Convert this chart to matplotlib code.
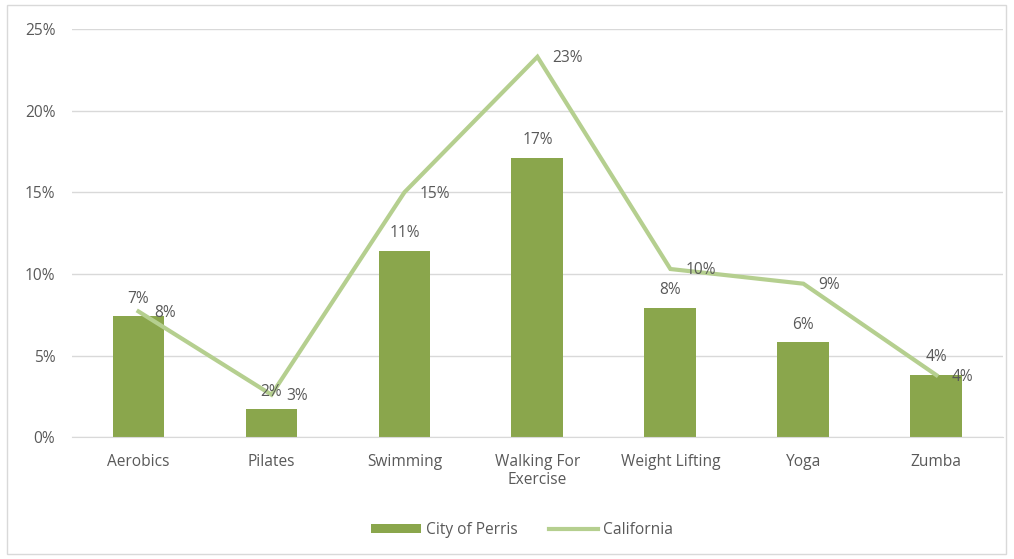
import matplotlib
matplotlib.use("Agg")
import matplotlib.pyplot as plt
from matplotlib.ticker import FuncFormatter, MultipleLocator
from matplotlib.patches import Rectangle
import numpy as np

# ---- data (percent) ----
categories = ["Aerobics", "Pilates", "Swimming", "Walking For\nExercise",
              "Weight Lifting", "Yoga", "Zumba"]
perris = [7.4, 1.7, 11.4, 17.1, 7.9, 5.8, 3.8]
california = [7.7, 2.6, 15.0, 23.3, 10.3, 9.4, 3.8]

BAR_COLOR = "#8AA64C"
LINE_COLOR = "#B5CF8F"
TEXT_COLOR = "#595959"
GRID_COLOR = "#D9D9D9"
FS = 11.2

plt.rcParams["font.family"] = ["Open Sans", "DejaVu Sans"]

fig = plt.figure(figsize=(10.14, 5.59), dpi=100)
ax = fig.add_axes([0.071, 0.218, 0.918, 0.730])

x = np.arange(len(categories))
bars = ax.bar(x, perris, width=0.39, color=BAR_COLOR, label="City of Perris", zorder=2)
line, = ax.plot(x, california, color=LINE_COLOR, lw=3, label="California", zorder=3,
                solid_joinstyle="miter")

# data labels
for xi, v in zip(x, perris):
    ax.annotate(f"{v:.0f}%", (xi, v), xytext=(0, 7), textcoords="offset points",
                ha="center", va="bottom", fontsize=FS, color=TEXT_COLOR, zorder=4)
for xi, v in zip(x, california):
    ax.annotate(f"{v:.0f}%", (xi, v), xytext=(11, -1), textcoords="offset points",
                ha="left", va="center", fontsize=FS, color=TEXT_COLOR, zorder=4)

ax.set_xlim(-0.5, len(categories) - 0.5)
ax.set_ylim(0, 25)
ax.yaxis.set_major_locator(MultipleLocator(5))
ax.yaxis.set_major_formatter(FuncFormatter(lambda v, p: f"{v:.0f}%"))
ax.grid(axis="y", color=GRID_COLOR, lw=1, zorder=0)
ax.set_xticks(x)
ax.set_xticklabels(categories)
ax.tick_params(axis="both", length=0, labelsize=FS, labelcolor=TEXT_COLOR)
ax.tick_params(axis="x", pad=12)
ax.tick_params(axis="y", pad=12)
for side in ["top", "right", "left"]:
    ax.spines[side].set_visible(False)
ax.spines["bottom"].set_color(GRID_COLOR)

leg = fig.legend(handles=[bars, line], labels=["City of Perris", "California"],
                 loc="center", bbox_to_anchor=(0.515, 0.052), ncol=2, frameon=False,
                 fontsize=FS, handlelength=3.2, handleheight=0.5, columnspacing=2.0,
                 handletextpad=0.3)
for t in leg.get_texts():
    t.set_color(TEXT_COLOR)

# outer chart border
fig.patches.append(Rectangle((0.007, 0.009), 0.985, 0.982, transform=fig.transFigure,
                             fill=False, edgecolor=GRID_COLOR, lw=1))

fig.savefig("out.png", dpi=100)
